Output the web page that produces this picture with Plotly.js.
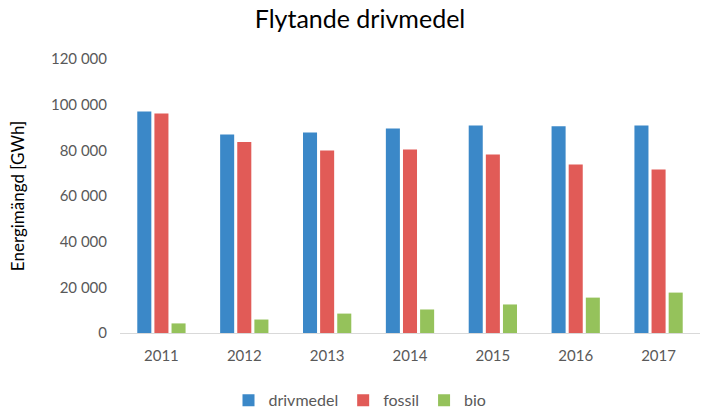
<!DOCTYPE html>
<html>
<head>
<meta charset="utf-8">
<script src="https://cdn.plot.ly/plotly-3.0.1.min.js"></script>
<style>
  html, body { margin: 0; padding: 0; background: #fff; }
  #chart { width: 720px; height: 417px; }
</style>
</head>
<body>
<div id="chart"></div>
<script>
// Values (GWh)
const years = ['2011', '2012', '2013', '2014', '2015', '2016', '2017'];
const drivmedel = [97000, 86900, 87800, 89600, 90900, 90500, 90900];
const fossil = [96100, 83600, 79900, 80400, 78200, 73800, 71600];
const bio = [4200, 5900, 8500, 10300, 12500, 15500, 17700];

const font = 'Lato, "Open Sans", sans-serif';

const traces = [
    { name: 'drivmedel', y: drivmedel, color: '#3B88C8' },
    { name: 'fossil', y: fossil, color: '#E15B57' },
    { name: 'bio', y: bio, color: '#95C25B' }
].map(s => ({
    type: 'bar',
    name: s.name,
    x: years,
    y: s.y,
    marker: { color: s.color },
    hoverinfo: 'x+y+name'
}));

const layout = {
    width: 720,
    height: 417,
    margin: { l: 120, r: 20, t: 59, b: 84 },
    paper_bgcolor: '#fff',
    plot_bgcolor: '#fff',
    separators: ', ',
    barmode: 'group',
    bargap: 0.38,
    bargroupgap: 0.18,
    font: { family: font, color: '#595959', size: 15 },
    title: {
        text: 'Flytande drivmedel',
        font: { family: font, size: 25, color: '#000' },
        x: 0.5, xanchor: 'center',
        y: 0.955, yanchor: 'middle'
    },
    xaxis: {
        type: 'category',
        showgrid: false,
        showline: true,
        linecolor: '#d9d9d9',
        linewidth: 1,
        ticks: '',
        ticklabelstandoff: 9,
        tickfont: { size: 15, color: '#595959' }
    },
    yaxis: {
        range: [0, 120000],
        dtick: 20000,
        tickformat: ',d',
        showgrid: false,
        zeroline: false,
        showline: false,
        ticks: '',
        ticklabelstandoff: 12,
        tickfont: { size: 15, color: '#595959' },
        title: {
            text: 'Energimängd [GWh]',
            font: { size: 17, color: '#000' },
            standoff: 22
        }
    },
    legend: {
        orientation: 'h',
        x: 0.5, xanchor: 'center', xref: 'container',
        y: 0.04, yanchor: 'middle', yref: 'container',
        font: { size: 16, color: '#595959' },
        traceorder: 'normal',
        itemwidth: 30
    },
    showlegend: true
};

Plotly.newPlot('chart', traces, layout, { displayModeBar: false, staticPlot: true });
</script>
</body>
</html>
